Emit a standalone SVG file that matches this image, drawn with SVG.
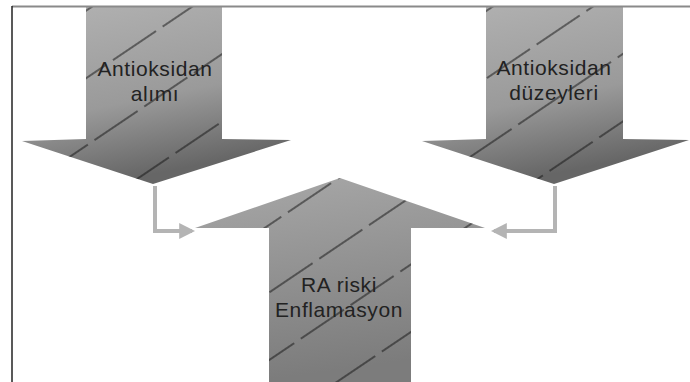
<svg xmlns="http://www.w3.org/2000/svg" width="690" height="382" viewBox="0 0 690 382">
<style>
.lbl{font-family:"Liberation Sans",Arial,sans-serif;font-size:21px;letter-spacing:0.6px;fill:#222;text-anchor:middle}
.conn{fill:none;stroke:#b4b4b4;stroke-width:4}
</style>
<defs>
<linearGradient id="gDown" x1="0" y1="0" x2="0.3" y2="1">
<stop offset="0" stop-color="#b2b2b2"/>
<stop offset="0.6" stop-color="#9a9a9a"/>
<stop offset="1" stop-color="#666"/>
</linearGradient>
<linearGradient id="gUp" x1="0" y1="0" x2="0.2" y2="1">
<stop offset="0" stop-color="#a8a8a8"/>
<stop offset="1" stop-color="#7c7c7c"/>
</linearGradient>
<pattern id="hatch" patternUnits="userSpaceOnUse" width="60" height="56" patternTransform="rotate(-34)">
<line x1="0" y1="1" x2="60" y2="1" stroke="#111" stroke-width="1.1" stroke-dasharray="52 8"/>
</pattern>
<marker id="ah" viewBox="0 0 10 10" refX="8" refY="5" markerWidth="4" markerHeight="4" orient="auto" markerUnits="strokeWidth">
<path d="M0,0 L10,5 L0,10 z" fill="#b4b4b4"/>
</marker>
</defs>
<rect width="690" height="382" fill="#fff"/>
<g id="connectors">
<path class="conn" d="M155,186 L155,231 L192,231" marker-end="url(#ah)"/>
<path class="conn" d="M555,186 L555,231 L494,231" marker-end="url(#ah)"/>
</g>
<g id="node-alim">
<polygon points="86,7 222,7 222,139 291,140 153,184 22,141 86,139" fill="url(#gDown)"/>
<polygon points="86,7 222,7 222,139 291,140 153,184 22,141 86,139" fill="url(#hatch)"/>
<text class="lbl" x="155" y="76">Antioksidan</text>
<text class="lbl" x="155" y="100.5">alımı</text>
</g>
<g id="node-duzey">
<polygon points="486,7 623,7 623,139 689,140 554,184 422,141 486,139" fill="url(#gDown)"/>
<polygon points="486,7 623,7 623,139 689,140 554,184 422,141 486,139" fill="url(#hatch)"/>
<text class="lbl" x="554" y="75">Antioksidan</text>
<text class="lbl" x="554" y="99.5">düzeyleri</text>
</g>
<g id="node-ra">
<polygon points="340,178 485,228 411,228 411,382 269,382 269,228 195,228" fill="url(#gUp)"/>
<polygon points="340,178 485,228 411,228 411,382 269,382 269,228 195,228" fill="url(#hatch)"/>
<text class="lbl" x="339" y="292">RA riski</text>
<text class="lbl" x="339" y="316.5">Enflamasyon</text>
</g>
<g id="frame">
<line x1="12" y1="6.5" x2="690" y2="6.5" stroke="#8a8a8a" stroke-width="2"/>
<line x1="12" y1="6" x2="12" y2="382" stroke="#222" stroke-width="1.5"/>
</g>
</svg>
